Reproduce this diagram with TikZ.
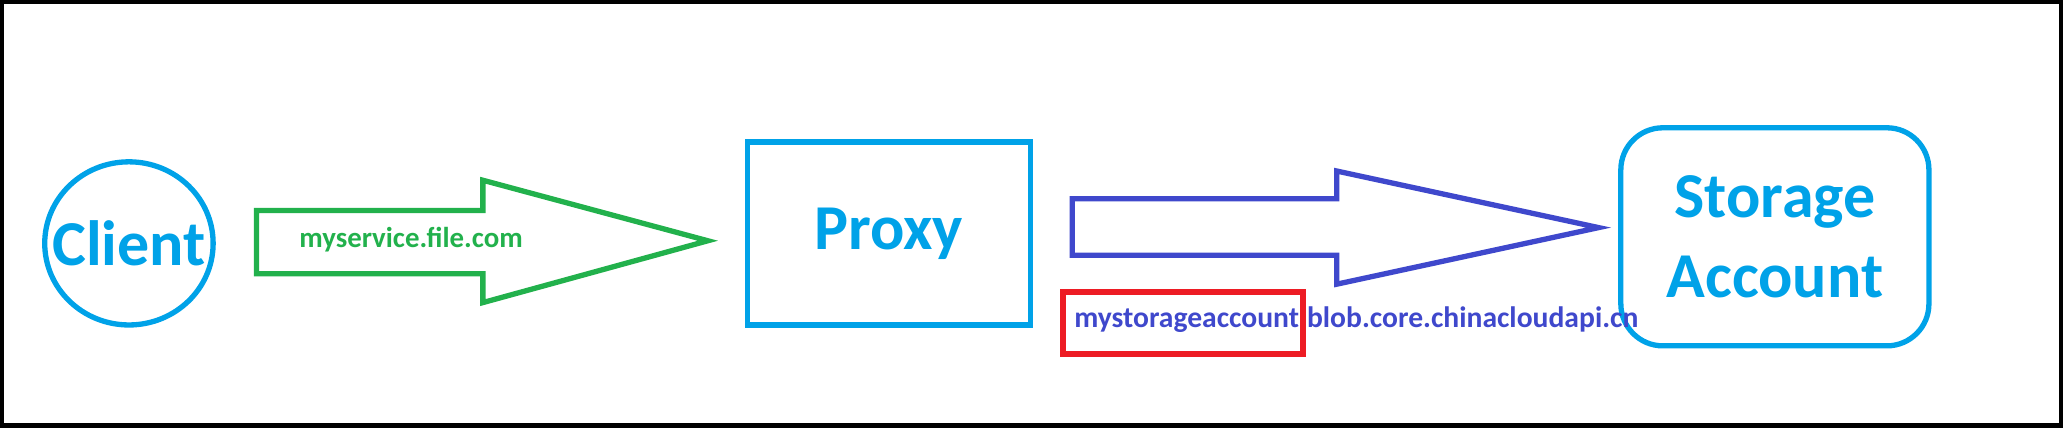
\documentclass[tikz,border=0pt]{standalone}
\usepackage{fontspec}
\setmainfont{Carlito}
\definecolor{skyblue}{HTML}{00A2E8}
\definecolor{paintgreen}{HTML}{22B14C}
\definecolor{indigo}{HTML}{3F48CC}
\definecolor{paintred}{HTML}{ED1C24}
\tikzset{
  part/.style={draw=skyblue, line width=0.053cm, text=skyblue, font=\bfseries\fontsize{18.2}{22.9}\selectfont},
  url/.style={inner sep=0pt, anchor=west, font=\bfseries\fontsize{8.2}{9.5}\selectfont}
}
\begin{document}
\begin{tikzpicture}[x=0.013157cm, y=-0.013157cm]
\useasboundingbox (0,0) rectangle (1568,325.3);
\draw[line width=0.045cm, black] (1.7,1.7) rectangle (1566.3,323.6);

\node[part, draw=none, inner sep=0pt] (client) at (98,185) {Client};
\draw[skyblue, line width=0.053cm] (client.center) ellipse [x radius=64, y radius=62];
\node[part, rectangle, minimum width=2.83cm, minimum height=1.83cm] (proxy) at (675.5,177.5) {Proxy};
\node[part, rectangle, rounded corners=0.42cm, align=center, minimum width=3.08cm, minimum height=2.18cm] (storage) at (1349,180) {Storage\\Account};

\draw[paintgreen, line width=0.053cm] (195,160) -- (367,160) -- (367,137) -- (538,183) -- (367,230) -- (367,208) -- (195,208) -- cycle;
\node[url, text=paintgreen] (service) at (227,182) {myservice.file.com};

\draw[indigo, line width=0.053cm] (815,151) -- (1016,151) -- (1016,130) -- (1215,173) -- (1016,216) -- (1016,194) -- (815,194) -- cycle;
\node[url, text=indigo, font=\bfseries\fontsize{8.42}{9.5}\selectfont] (endpoint) at (816,243) {mystorageaccount.blob.core.chinacloudapi.cn};
\draw[paintred, line width=0.06cm] (808,222) rectangle (990,269);
\end{tikzpicture}
\end{document}
